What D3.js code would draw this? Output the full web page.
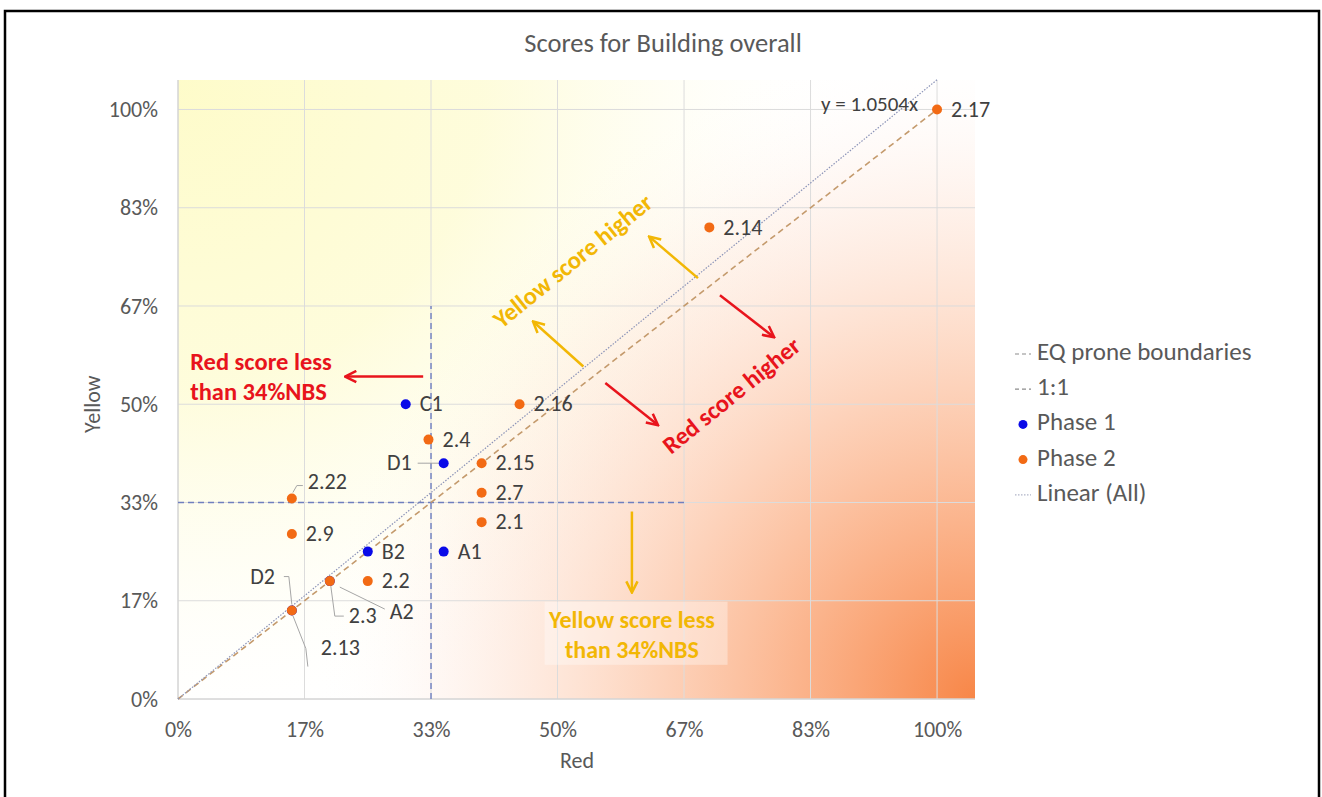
<!DOCTYPE html>
<html>
<head>
<meta charset="utf-8">
<script src="https://cdn.jsdelivr.net/npm/d3@7/dist/d3.min.js"></script>
<style>
  body { margin: 0; background: #fff; }
  text { font-family: Carlito, Lato, "Open Sans", sans-serif; }
</style>
</head>
<body>
<div id="chart"></div>
<script>
document.addEventListener('DOMContentLoaded', init, false);

// Phase 1 buildings (red score, yellow score)
const phase1Names = ["A1", "B2", "C1", "D1", "A2", "D2"];
const phase1Red = [0.35, 0.25, 0.30, 0.35, 0.20, 0.15];
const phase1Yellow = [0.25, 0.25, 0.50, 0.40, 0.20, 0.15];

// Phase 2 buildings
const phase2Names = ["2.1", "2.2", "2.3", "2.4", "2.7", "2.9", "2.13", "2.14", "2.15", "2.16", "2.17", "2.22"];
const phase2Red = [0.40, 0.25, 0.20, 0.33, 0.40, 0.15, 0.15, 0.70, 0.40, 0.45, 1.00, 0.15];
const phase2Yellow = [0.30, 0.20, 0.20, 0.44, 0.35, 0.28, 0.15, 0.80, 0.40, 0.50, 1.00, 0.34];

const tickValues = [0, 1 / 6, 2 / 6, 3 / 6, 4 / 6, 5 / 6, 1];
const tickLabels = ["0%", "17%", "33%", "50%", "67%", "83%", "100%"];

const trendSlope = 1.0504;     // Linear (All), through origin
const eqBoundary = 1 / 3;      // 34% NBS
const eqBoundaryEnd = 2 / 3;

const legendLabels = ["EQ prone boundaries", "1:1", "Phase 1", "Phase 2", "Linear (All)"];

const c_blue = "#0a0ae8";
const c_orange = "#f26a14";
const c_red = "#e8141c";
const c_gold = "#f2b705";
const c_text = "#595959";
const c_label = "#404040";

// label placement: [dx, dy, anchor, leader points relative to the dot]
const labelPos = {
  "D1": [-32, 2, "end", [[-26, 0], [-5, 0]]],
  "2.22": [16, -15, "start", [[1, -6], [5, -13], [11, -13]]],
  "2.3": [19, 37, "start", [[1, 5], [5, 35], [14, 35]]],
  "A2": [60, 33, "start", [[10, 6], [55, 28]]],
  "D2": [-17, -32, "end", [[-8, -34], [-3, -34], [0, -6]]],
  "2.13": [29, 39, "start", [[1, 5], [14, 38], [16, 56]]]
};

function init() {
  const width = 1322, height = 797;

  const svg = d3.select("#chart").append("svg")
    .attr("width", width)
    .attr("height", height);

  // outer frame
  svg.append("rect")
    .attr("x", 5).attr("y", 11)
    .attr("width", 1314).attr("height", 800)
    .attr("fill", "#fff")
    .attr("stroke", "#000")
    .attr("stroke-width", 2.5);

  const x = d3.scaleLinear().domain([0, 1.05]).range([178, 975]);
  const y = d3.scaleLinear().domain([0, 1.05]).range([699, 80]);

  const defs = svg.append("defs");

  // orange glow from the bottom right, yellow from the top left
  const gOrange = defs.append("radialGradient")
    .attr("id", "orangeGrad")
    .attr("gradientUnits", "userSpaceOnUse")
    .attr("cx", x(1.05)).attr("cy", y(0)).attr("r", 660);
  gOrange.append("stop").attr("offset", 0).attr("stop-color", "#f7803e").attr("stop-opacity", 0.95);
  gOrange.append("stop").attr("offset", 0.3).attr("stop-color", "#f98a4c").attr("stop-opacity", 0.6);
  gOrange.append("stop").attr("offset", 0.6).attr("stop-color", "#fb9a64").attr("stop-opacity", 0.28);
  gOrange.append("stop").attr("offset", 0.85).attr("stop-color", "#fcb088").attr("stop-opacity", 0.06);
  gOrange.append("stop").attr("offset", 1).attr("stop-color", "#fff").attr("stop-opacity", 0);

  const gYellow = defs.append("radialGradient")
    .attr("id", "yellowGrad")
    .attr("gradientUnits", "userSpaceOnUse")
    .attr("cx", x(0)).attr("cy", y(1.05)).attr("r", 680);
  gYellow.append("stop").attr("offset", 0).attr("stop-color", "#fdf9a6").attr("stop-opacity", 0.6);
  gYellow.append("stop").attr("offset", 0.45).attr("stop-color", "#fdf9b0").attr("stop-opacity", 0.45);
  gYellow.append("stop").attr("offset", 0.75).attr("stop-color", "#fefac8").attr("stop-opacity", 0.15);
  gYellow.append("stop").attr("offset", 1).attr("stop-color", "#fff").attr("stop-opacity", 0);

  [["arrowGold", c_gold], ["arrowRed", c_red]].forEach(function (m) {
    defs.append("marker")
      .attr("id", m[0])
      .attr("viewBox", "0 0 10 10")
      .attr("refX", 8).attr("refY", 5)
      .attr("markerUnits", "userSpaceOnUse")
      .attr("markerWidth", 14).attr("markerHeight", 14)
      .attr("orient", "auto")
      .append("path")
      .attr("d", "M1,1 L9,5 L1,9")
      .attr("fill", "none")
      .attr("stroke", m[1])
      .attr("stroke-width", 1.8);
  });

  // plot area
  ["#ffffff", "url(#yellowGrad)", "url(#orangeGrad)"].forEach(function (f) {
    svg.append("rect")
      .attr("x", x(0)).attr("y", y(1.05))
      .attr("width", x(1.05) - x(0))
      .attr("height", y(0) - y(1.05))
      .attr("fill", f);
  });

  // gridlines
  const grid = svg.append("g").attr("stroke", "#dcdcdc").attr("stroke-width", 1);
  grid.selectAll(".gx").data(tickValues).enter().append("line")
    .attr("x1", d => x(d)).attr("x2", d => x(d))
    .attr("y1", y(0)).attr("y2", y(1.05));
  grid.selectAll(".gy").data(tickValues).enter().append("line")
    .attr("x1", x(0)).attr("x2", x(1.05))
    .attr("y1", d => y(d)).attr("y2", d => y(d));

  // axes
  const xAxis = d3.axisBottom(x).tickValues(tickValues)
    .tickFormat((d, i) => tickLabels[i]).tickSize(0).tickPadding(22);
  const yAxis = d3.axisLeft(y).tickValues(tickValues)
    .tickFormat((d, i) => tickLabels[i]).tickSize(0).tickPadding(20);

  const gx = svg.append("g").attr("transform", "translate(0," + y(0) + ")").call(xAxis);
  const gy = svg.append("g").attr("transform", "translate(" + x(0) + ",0)").call(yAxis);
  [gx, gy].forEach(function (g) {
    g.select(".domain").attr("stroke", "#d0d0d0");
    g.selectAll("text").attr("fill", c_text).style("font-size", "22px");
  });
  gy.select(".domain").attr("d", "M0," + y(0) + "V" + y(1.05));
  gx.select(".domain").attr("d", "M" + x(0) + ",0H" + x(1.05));

  // titles
  svg.append("text")
    .attr("x", 663).attr("y", 52)
    .attr("text-anchor", "middle")
    .attr("fill", c_text).style("font-size", "26.5px")
    .text("Scores for Building overall");
  svg.append("text")
    .attr("x", 577).attr("y", 768)
    .attr("text-anchor", "middle")
    .attr("fill", c_text).style("font-size", "22px")
    .text("Red");
  svg.append("text")
    .attr("transform", "translate(100," + y(0.5) + ") rotate(-90)")
    .attr("text-anchor", "middle")
    .attr("fill", c_text).style("font-size", "22px")
    .text("Yellow");

  // EQ prone boundaries
  const bounds = svg.append("g")
    .attr("stroke", "#6f7fbf").attr("stroke-width", 1.4)
    .attr("stroke-dasharray", "6,4").attr("fill", "none");
  bounds.append("line")
    .attr("x1", x(eqBoundary)).attr("x2", x(eqBoundary))
    .attr("y1", y(0)).attr("y2", y(eqBoundaryEnd));
  bounds.append("line")
    .attr("x1", x(0)).attr("x2", x(eqBoundaryEnd))
    .attr("y1", y(eqBoundary)).attr("y2", y(eqBoundary));

  // 1:1 line
  svg.append("line")
    .attr("x1", x(0)).attr("y1", y(0))
    .attr("x2", x(1)).attr("y2", y(1))
    .attr("stroke", "#c49a6c").attr("stroke-width", 1.6)
    .attr("stroke-dasharray", "6,4");

  // Linear (All)
  svg.append("line")
    .attr("x1", x(0)).attr("y1", y(0))
    .attr("x2", x(1)).attr("y2", y(trendSlope))
    .attr("stroke", "#8c94b8").attr("stroke-width", 1.2)
    .attr("stroke-dasharray", "1.5,1.5");

  svg.append("text")
    .attr("x", x(0.975)).attr("y", y(1.0) - 3)
    .attr("text-anchor", "end").attr("dominant-baseline", "middle")
    .attr("fill", c_label).style("font-size", "21px")
    .text("y = " + trendSlope + "x");

  // annotations (arrows)
  const arrows = [
    [0.534, 0.564, 0.469, 0.639, c_gold, "arrowGold"],
    [0.685, 0.714, 0.622, 0.783, c_gold, "arrowGold"],
    [0.563, 0.536, 0.631, 0.466, c_red, "arrowRed"],
    [0.714, 0.685, 0.784, 0.615, c_red, "arrowRed"],
    [0.323, 0.547, 0.222, 0.547, c_red, "arrowRed"],
    [0.598, 0.318, 0.598, 0.183, c_gold, "arrowGold"]
  ];
  svg.append("g").selectAll("line").data(arrows).enter().append("line")
    .attr("x1", d => x(d[0])).attr("y1", d => y(d[1]))
    .attr("x2", d => x(d[2])).attr("y2", d => y(d[3]))
    .attr("stroke", d => d[4]).attr("stroke-width", 2.5)
    .attr("marker-end", d => "url(#" + d[5] + ")");

  svg.append("text")
    .attr("transform", "translate(" + x(0.522) + "," + y(0.740) + ") rotate(-39)")
    .attr("text-anchor", "middle").attr("dominant-baseline", "middle")
    .attr("fill", c_gold).style("font-size", "24.5px").style("font-weight", "bold")
    .text("Yellow score higher");
  svg.append("text")
    .attr("transform", "translate(" + x(0.731) + "," + y(0.512) + ") rotate(-39)")
    .attr("text-anchor", "middle").attr("dominant-baseline", "middle")
    .attr("fill", c_red).style("font-size", "24.5px").style("font-weight", "bold")
    .text("Red score higher");

  const redLess = svg.append("text")
    .attr("fill", c_red).style("font-size", "24.5px").style("font-weight", "bold");
  redLess.append("tspan").attr("x", x(0.016)).attr("y", y(0.568)).attr("dominant-baseline", "middle").text("Red score less");
  redLess.append("tspan").attr("x", x(0.016)).attr("y", y(0.517)).attr("dominant-baseline", "middle").text("than 34%NBS");

  svg.append("rect")
    .attr("x", x(0.483)).attr("y", y(0.165))
    .attr("width", x(0.241) - x(0)).attr("height", y(0) - y(0.107))
    .attr("fill", "#fff").attr("opacity", 0.35);
  const yelLess = svg.append("text")
    .attr("text-anchor", "middle")
    .attr("fill", c_gold).style("font-size", "24px").style("font-weight", "bold");
  yelLess.append("tspan").attr("x", x(0.598)).attr("y", y(0.131)).attr("dominant-baseline", "middle").text("Yellow score less");
  yelLess.append("tspan").attr("x", x(0.598)).attr("y", y(0.080)).attr("dominant-baseline", "middle").text("than 34%NBS");

  // points
  const phase1 = phase1Names.map((n, i) => ({ name: n, red: phase1Red[i], yellow: phase1Yellow[i] }));
  const phase2 = phase2Names.map((n, i) => ({ name: n, red: phase2Red[i], yellow: phase2Yellow[i] }));
  const allPts = phase1.concat(phase2);

  const leaders = svg.append("g").attr("stroke", "#a6a6a6").attr("stroke-width", 1).attr("fill", "none");
  allPts.forEach(function (d) {
    const p = labelPos[d.name];
    if (p && p[3]) {
      leaders.append("path")
        .attr("d", d3.line()(p[3].map(q => [x(d.red) + q[0], y(d.yellow) + q[1]])));
    }
  });

  [[phase1, c_blue], [phase2, c_orange]].forEach(function (s) {
    svg.append("g").selectAll("circle").data(s[0]).enter().append("circle")
      .attr("cx", d => x(d.red)).attr("cy", d => y(d.yellow))
      .attr("r", 5).attr("fill", s[1]);
  });

  svg.append("g").selectAll("text").data(allPts).enter().append("text")
    .attr("x", d => x(d.red) + (labelPos[d.name] ? labelPos[d.name][0] : 14))
    .attr("y", d => y(d.yellow) + (labelPos[d.name] ? labelPos[d.name][1] : 2))
    .attr("text-anchor", d => labelPos[d.name] ? labelPos[d.name][2] : "start")
    .attr("dominant-baseline", "middle")
    .attr("fill", c_label).style("font-size", "22px")
    .text(d => d.name);

  // legend
  const legend = svg.append("g").attr("transform", "translate(1015,354)");
  const rows = legend.selectAll("g").data(legendLabels).enter().append("g")
    .attr("transform", (d, i) => "translate(0," + (i * 35.2) + ")");
  rows.append("text")
    .attr("x", 22).attr("dominant-baseline", "middle")
    .attr("fill", c_text).style("font-size", "25px")
    .text(d => d);
  rows.filter((d, i) => i < 2).append("line")
    .attr("x1", 0).attr("x2", 16)
    .attr("stroke", "#8c8c8c").attr("stroke-width", 1.2)
    .attr("stroke-dasharray", "4,3");
  rows.filter((d, i) => i == 2 || i == 3).append("circle")
    .attr("cx", 8).attr("r", 4.5)
    .attr("fill", (d, i) => i == 0 ? c_blue : c_orange);
  rows.filter((d, i) => i == 4).append("line")
    .attr("x1", 0).attr("x2", 16)
    .attr("stroke", "#b0b4c8").attr("stroke-width", 1.2)
    .attr("stroke-dasharray", "1.5,1.5");
}
</script>
</body>
</html>
